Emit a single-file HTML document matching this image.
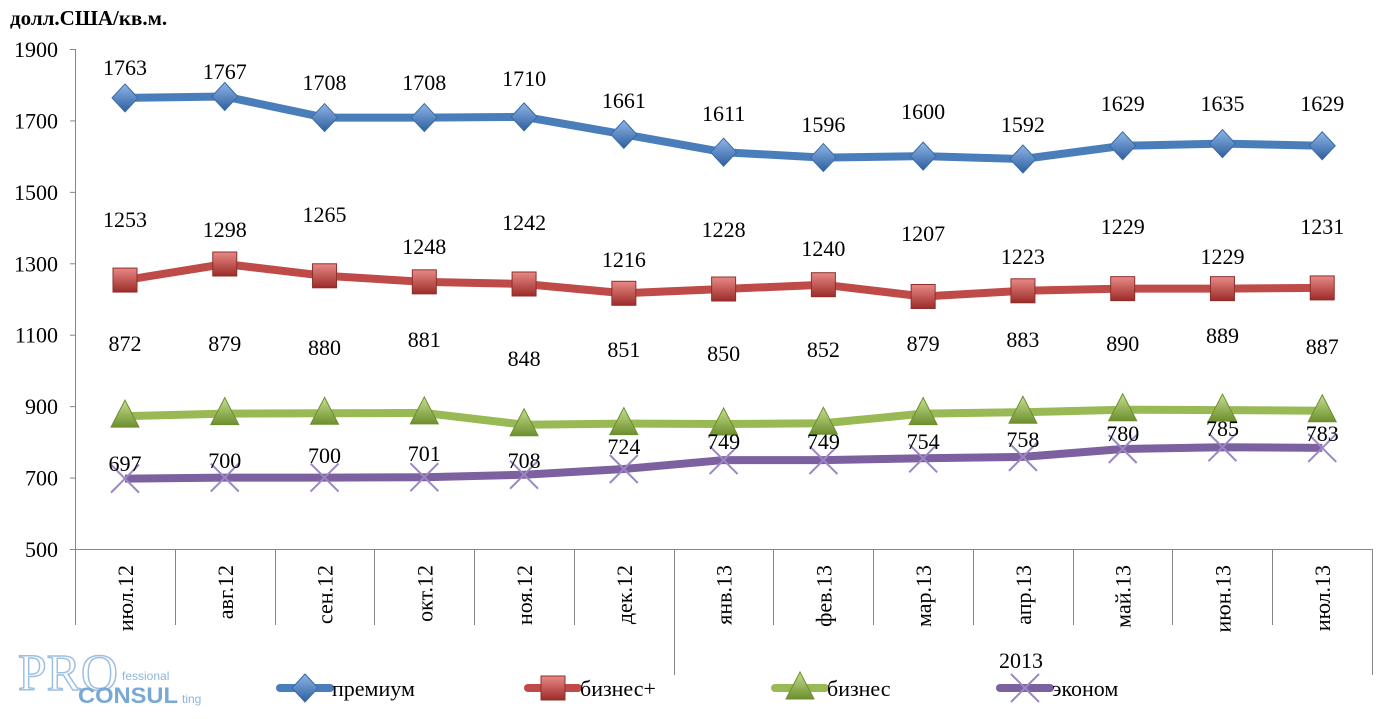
<!DOCTYPE html>
<html><head><meta charset="utf-8"><style>
body{margin:0;background:#fff;width:1389px;height:714px;overflow:hidden}
svg text{font-family:"Liberation Serif",serif;fill:#000}
</style></head><body>
<svg id="s" width="1389" height="714" xmlns="http://www.w3.org/2000/svg">
<defs>
<linearGradient id="gb" x1="0" y1="0" x2="0" y2="1"><stop offset="0" stop-color="#8fb5e8"/><stop offset="1" stop-color="#2d5f9e"/></linearGradient>
<linearGradient id="gr" x1="0" y1="0" x2="0" y2="1"><stop offset="0" stop-color="#e88a87"/><stop offset="1" stop-color="#9c2b28"/></linearGradient>
<linearGradient id="gg" x1="0" y1="0" x2="0" y2="1"><stop offset="0" stop-color="#c5df8e"/><stop offset="1" stop-color="#6d8f2e"/></linearGradient>
</defs>
<text x="10" y="25" font-size="21" font-weight="bold">долл.США/кв.м.</text>
<g id="ax" stroke="#868686" stroke-width="1"></g>
<g id="sr"></g>
<g font-size="20">
<text x="18" y="690" font-size="52" style="fill:none;stroke:#9ec0e0;stroke-width:1.5;font-family:'Liberation Serif',serif" textLength="100" lengthAdjust="spacingAndGlyphs">PRO</text>
<text x="78" y="703" font-size="22" font-weight="bold" style="fill:#7aa8d6;font-family:'Liberation Sans',sans-serif" textLength="100" lengthAdjust="spacingAndGlyphs">CONSUL</text>
<text x="122" y="680" font-size="12" style="fill:#8fb5da;font-family:'Liberation Sans',sans-serif">fessional</text>
<text x="182" y="703" font-size="12" style="fill:#8fb5da;font-family:'Liberation Sans',sans-serif">ting</text>
</g>
</svg>
<script>
const NS="http://www.w3.org/2000/svg",s=document.getElementById('s'),ax=document.getElementById('ax'),sr=document.getElementById('sr');
function el(t,a,p,txt){const e=document.createElementNS(NS,t);for(const k in a)e.setAttribute(k,a[k]);if(txt!=null)e.textContent=txt;(p||s).appendChild(e);return e}
const FS=22;
const Y=v=>549-(v-500)*500/1400, X=i=>125+i*99.77;
el('line',{x1:75.5,y1:49,x2:75.5,y2:625},ax);
el('line',{x1:75,y1:549.5,x2:1372,y2:549.5},ax);
for(let v=500;v<=1900;v+=200){el('line',{x1:70,y1:Y(v)+.5,x2:75,y2:Y(v)+.5},ax);el('text',{x:58,y:Y(v)+8,'font-size':FS,'text-anchor':'end'},s,v)}
const mon=['июл.12','авг.12','сен.12','окт.12','ноя.12','дек.12','янв.13','фев.13','мар.13','апр.13','май.13','июн.13','июл.13'];
for(let i=1;i<=13;i++){const x=Math.round(75+i*99.77)+.5;el('line',{x1:x,y1:549,x2:x,y2:(i==6||i==13)?675:625},ax)}
mon.forEach((m,i)=>el('text',{transform:`translate(${X(i)+8},${565}) rotate(-90)`,'font-size':FS,'text-anchor':'end'},s,m));
el('text',{x:1021,y:668,'font-size':FS,'text-anchor':'middle'},s,'2013');
const D=[
{c:'#4a7ebb',g:'url(#gb)',m:'d',v:[1763,1767,1708,1708,1710,1661,1611,1596,1600,1592,1629,1635,1629],ly:[67,71,82,82,78,100,113,124,111,124,103,103,103]},
{c:'#be4b48',g:'url(#gr)',m:'s',v:[1253,1298,1265,1248,1242,1216,1228,1240,1207,1223,1229,1229,1231],ly:[219,229,214,246,222,259,229,248,233,256,226,256,226]},
{c:'#98b954',g:'url(#gg)',m:'t',v:[872,879,880,881,848,851,850,852,879,883,890,889,887],ly:[343,343,347,339,358,349,353,349,343,339,343,335,346]},
{c:'#7d60a0',g:'#7d60a0',m:'x',v:[697,700,700,701,708,724,749,749,754,758,780,785,783],ly:[463,460,455,453,460,446,441,441,441,439,433,428,433]}];
function mk(t,x,y,d,p){
 if(t=='d')el('polygon',{points:`${x},${y-14} ${x+13},${y} ${x},${y+14} ${x-13},${y}`,fill:d.g,stroke:'#3a6aa5','stroke-width':1},p);
 if(t=='s')el('rect',{x:x-12,y:y-12,width:24,height:24,fill:d.g,stroke:'#8c2f2c','stroke-width':1},p);
 if(t=='t')el('polygon',{points:`${x},${y-16} ${x+14},${y+11} ${x-14},${y+11}`,fill:d.g,stroke:'#6d8f2e','stroke-width':1},p);
 if(t=='x'){el('path',{d:`M${x-14},${y-14}L${x+14},${y+14}M${x+14},${y-14}L${x-14},${y+14}`,stroke:'#9b87c4','stroke-width':2},p)}
}
D.forEach(d=>{
 el('polyline',{points:d.v.map((v,i)=>X(i)+','+Y(v)).join(' '),fill:'none',stroke:d.c,'stroke-width':8,'stroke-linejoin':'round'},sr);
 d.v.forEach((v,i)=>mk(d.m,X(i),Y(v),d,sr));
});
D.forEach(d=>d.v.forEach((v,i)=>el('text',{x:X(i),y:d.ly[i]+8,'font-size':FS,'text-anchor':'middle'},s,v)));
const L=[['премиум',280],['бизнес+',528],['бизнес',775],['эконом',1000]];
L.forEach((l,k)=>{const d=D[k],y=688;el('line',{x1:l[1],y1:y,x2:l[1]+50,y2:y,stroke:d.c,'stroke-width':8,'stroke-linecap':'round'});mk(d.m,l[1]+25,y,d,s);el('text',{x:l[1]+52,y:y+8,'font-size':FS},s,l[0])});
</script>
</body></html>
